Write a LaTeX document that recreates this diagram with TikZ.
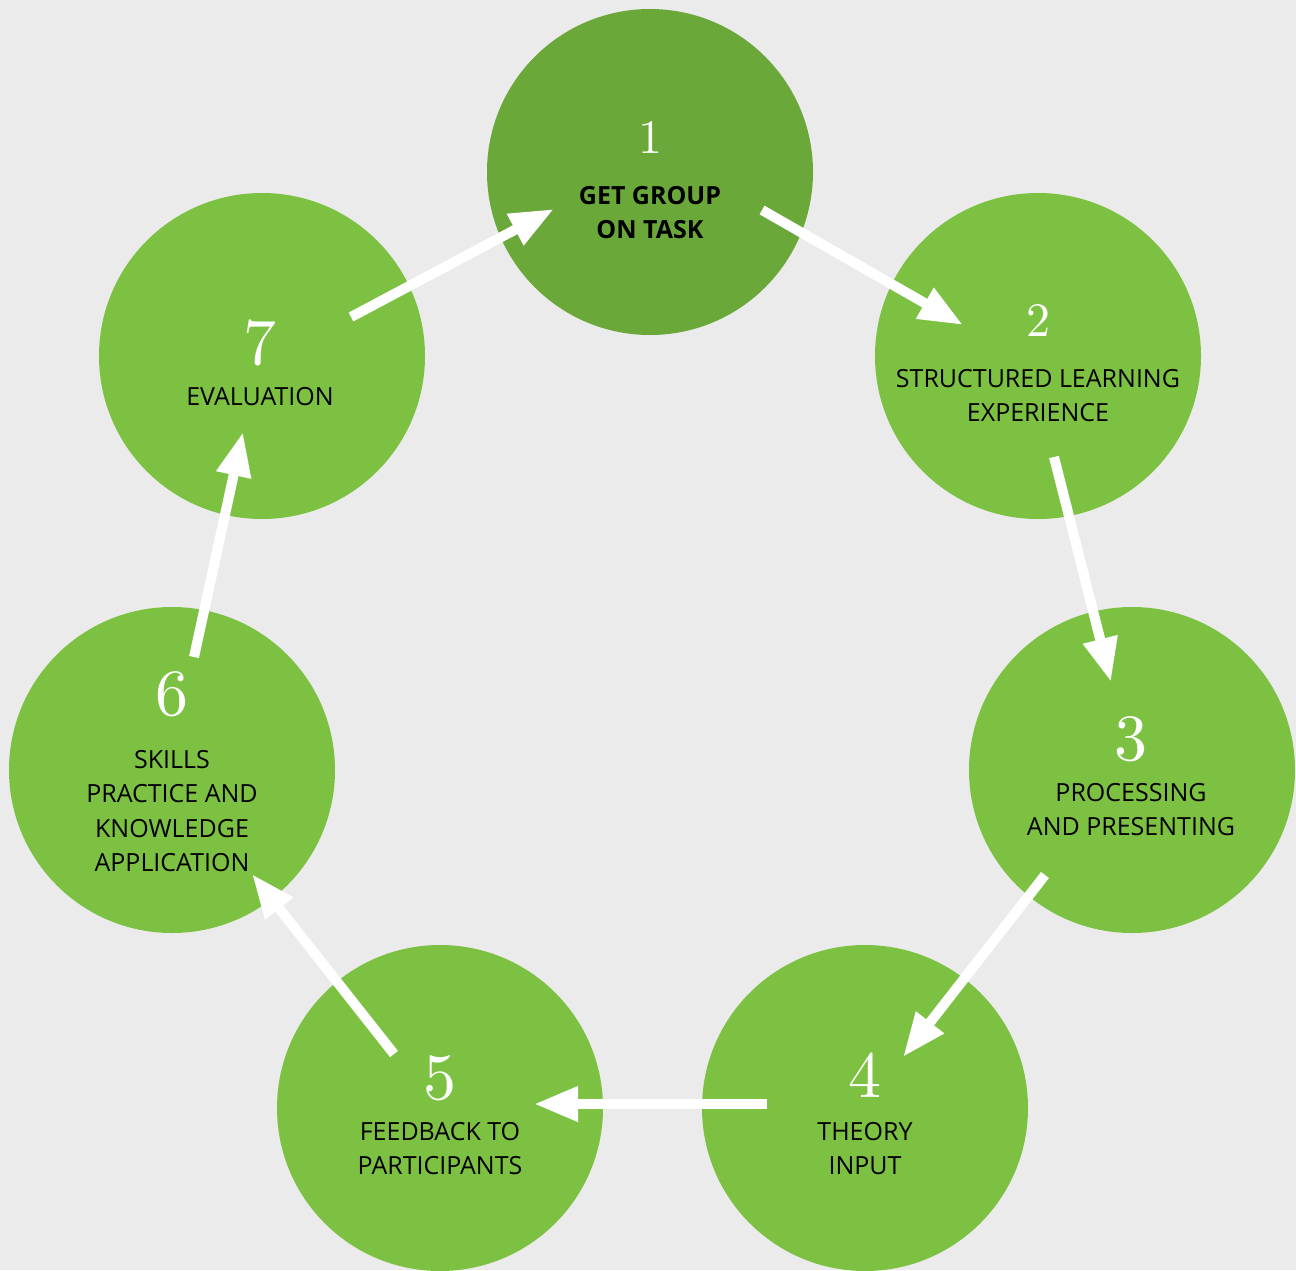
\documentclass[tikz,border=0pt]{standalone}
\usepackage{fontspec}
\setsansfont{Open Sans}
\newfontfamily\numfont{lmroman10-regular.otf}
\usetikzlibrary{arrows.meta}
\definecolor{bg}{HTML}{EBEBEB}
\definecolor{lgreen}{HTML}{7DC142}
\definecolor{dgreen}{HTML}{6AA83A}
\tikzset{
  stage/.style={circle, minimum size=326pt, inner sep=0pt, fill=lgreen},
  numlabel/.style={anchor=base, inner sep=0pt, text=white, font=\numfont\fontsize{66}{66}\selectfont},
  smallnum/.style={numlabel, font=\numfont\fontsize{48}{48}\selectfont},
  caption/.style={anchor=north, inner sep=0pt, align=center, text=black, font=\sffamily\fontsize{25}{34.5}\selectfont},
  flow/.style={draw=white, line width=10pt, -{Triangle[length=44pt, width=33pt]}}
}
\begin{document}
\begin{tikzpicture}[x=1pt, y=-1pt]
\fill[bg] (0,0) rectangle (1296,1270);
\useasboundingbox (0,0) rectangle (1296,1270);
% circles
\node[stage, fill=dgreen] (c1) at (650,172) {};
\node[stage] (c2) at (1038,356) {};
\node[stage] (c3) at (1132,770) {};
\node[stage] (c4) at (865,1108) {};
\node[stage] (c5) at (440,1108) {};
\node[stage] (c6) at (172,770) {};
\node[stage] (c7) at (262,356) {};
% numbers
\node[smallnum] (n1) at (650,153) {1};
\node[smallnum] (n2) at (1038,336) {2};
\node[numlabel] (n3) at (1131,760) {3};
\node[numlabel] (n4) at (865,1097) {4};
\node[numlabel] (n5) at (440,1099) {5};
\node[numlabel] (n6) at (172,715) {6};
\node[numlabel] (n7) at (260,364) {7};
% captions
\node[caption, font=\sffamily\bfseries\fontsize{25}{34.5}\selectfont] (t1) at (650,186) {GET GROUP\\ON TASK};
\node[caption] (t2) at (1038,369) {STRUCTURED LEARNING\\EXPERIENCE};
\node[caption] (t3) at (1131,783) {PROCESSING\\AND PRESENTING};
\node[caption] (t4) at (865,1122) {THEORY\\INPUT};
\node[caption] (t5) at (440,1122) {FEEDBACK TO\\PARTICIPANTS};
\node[caption] (t6) at (172,750) {SKILLS\\PRACTICE AND\\KNOWLEDGE\\APPLICATION};
\node[caption] (t7) at (260,387) {EVALUATION};
% arrow end points
\coordinate (a12) at (762,210);  \coordinate (b12) at (963,325);
\coordinate (a23) at (1054,457); \coordinate (b23) at (1111,682);
\coordinate (a34) at (1045,875); \coordinate (b34) at (903,1057);
\coordinate (a45) at (767,1104); \coordinate (b45) at (534,1104);
\coordinate (a56) at (394,1054); \coordinate (b56) at (252,874);
\coordinate (a67) at (194,657);  \coordinate (b67) at (243,432);
\coordinate (a71) at (351,317);  \coordinate (b71) at (554,209);
\draw[flow] (a12) -- (b12);
\draw[flow] (a23) -- (b23);
\draw[flow] (a34) -- (b34);
\draw[flow] (a45) -- (b45);
\draw[flow] (a56) -- (b56);
\draw[flow] (a67) -- (b67);
\draw[flow] (a71) -- (b71);
\end{tikzpicture}
\end{document}
